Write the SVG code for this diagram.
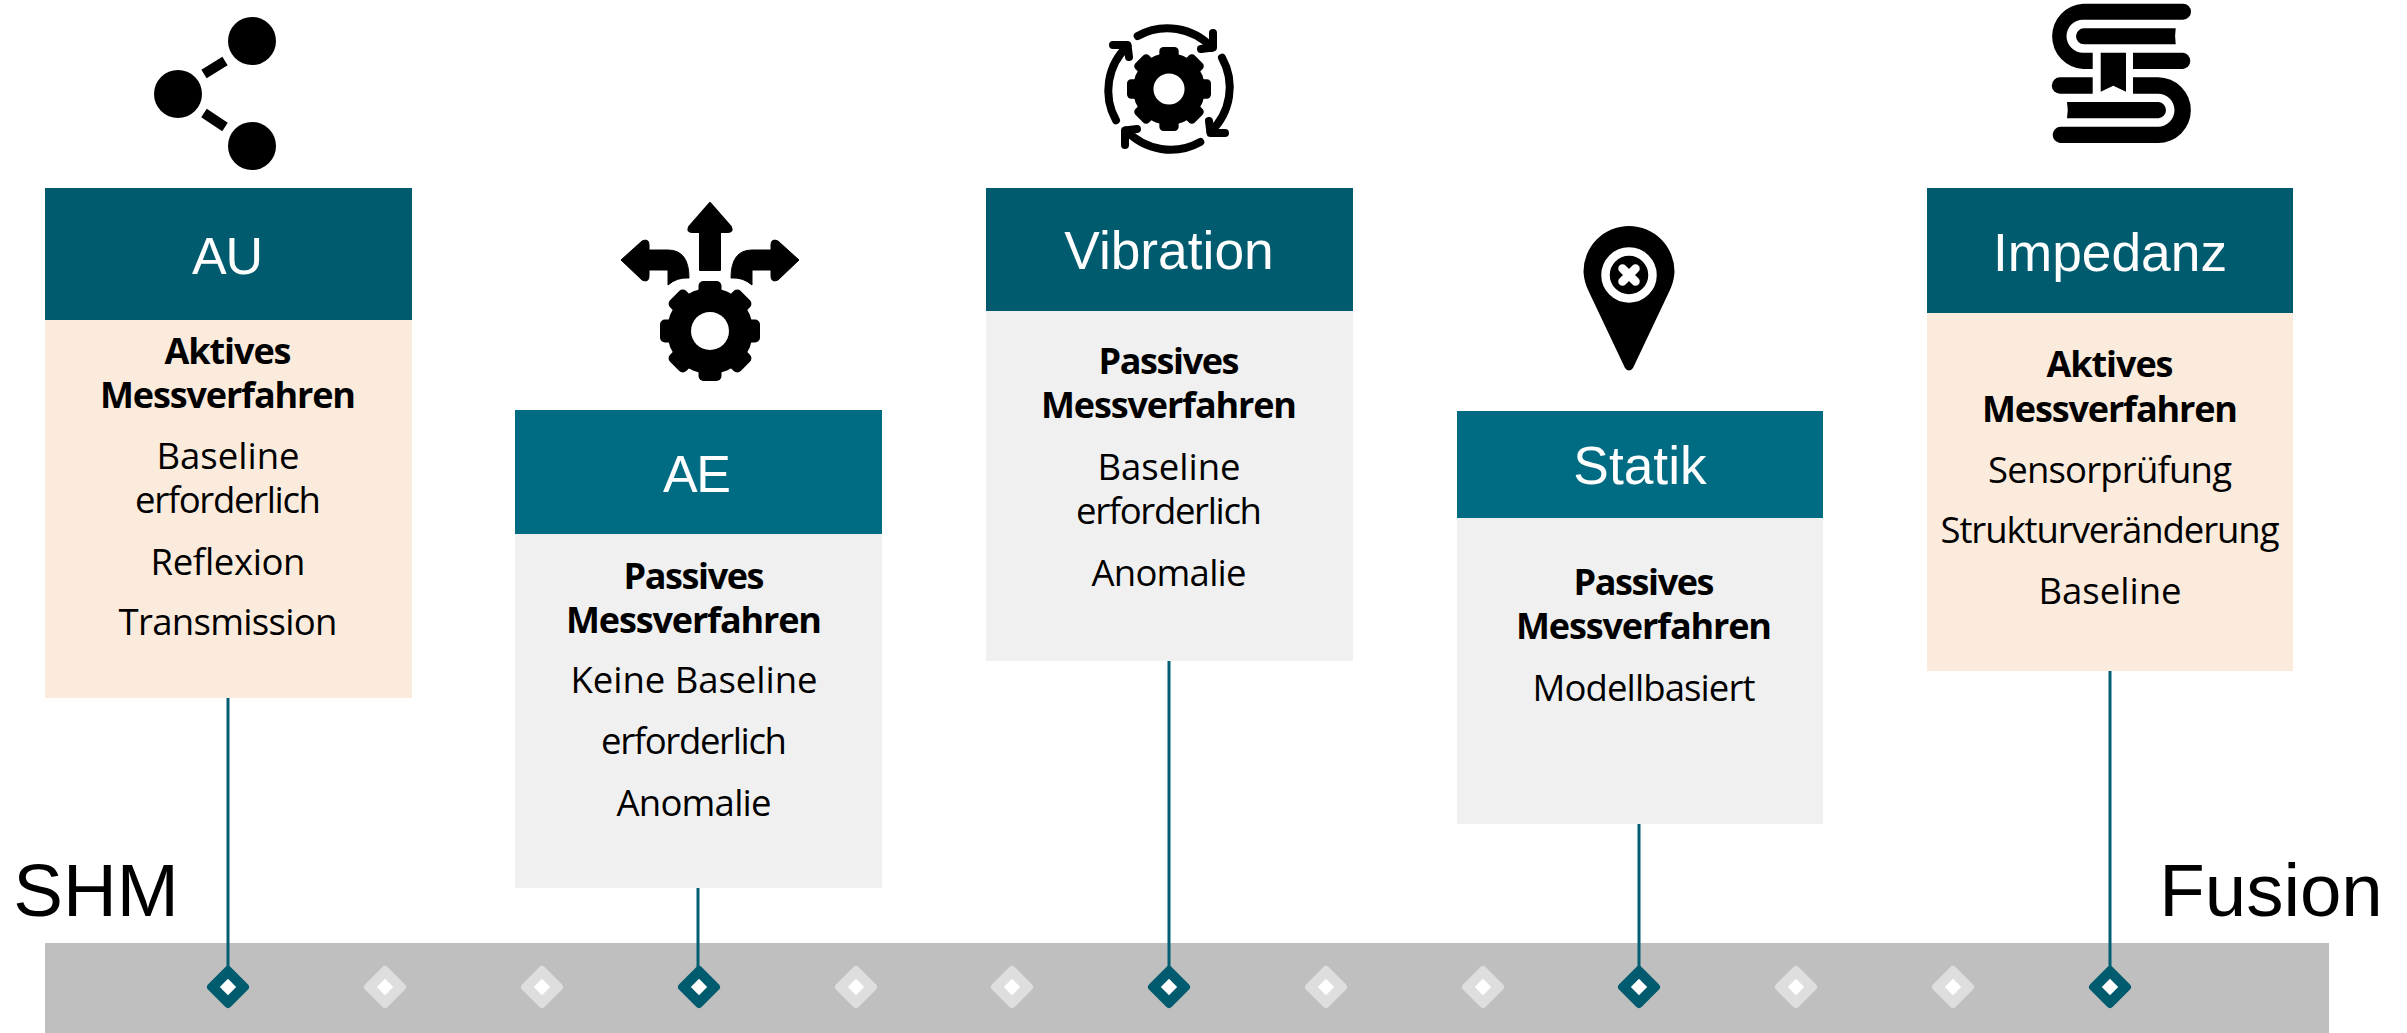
<svg xmlns="http://www.w3.org/2000/svg" xmlns:xlink="http://www.w3.org/1999/xlink" width="2407" height="1033" viewBox="0 0 2407 1033">
<style>
text{font-family:"Open Sans","Noto Sans",sans-serif;fill:#000;text-anchor:middle;font-size:36.500px}
.b{font-weight:700;font-size:36px}
.h{fill:#fff;font-family:"Liberation Sans",Arial,sans-serif;font-size:53.300px}
.hs{fill:#fff;font-family:"Liberation Sans",Arial,sans-serif;font-size:52px}
.big{font-family:"Liberation Sans",Arial,sans-serif;font-size:74.500px}
.dark{fill:#005b6e}
.mid{fill:#006c84}
.warm{fill:#fbebdc}
.cool{fill:#f0f0f0}
.conn{stroke:#005f73;stroke-width:3;fill:none}
.dd{fill:#005b6e}
.dl{fill:#dedede}
</style>
<defs>
<g id="dia"><rect x="-16" y="-16" width="32" height="32" rx="4" transform="rotate(45)"/><rect x="-5.800" y="-5.800" width="11.600" height="11.600" fill="#fff" transform="rotate(45)"/></g>
<g id="tooth"><rect x="-11.500" y="-50" width="23" height="20" rx="5"/></g>
<g id="arc"><path d="M1137.700 36A61 61 0 0 1 1212 47.700M1213 33L1213 47.500L1201 49" fill="none" stroke="#000" stroke-width="8" stroke-linecap="round" stroke-linejoin="round"/></g>
</defs>
<rect id="bar" x="45" y="943" width="2284" height="90" fill="#bfbfbf"/>
<g id="connectors">
<path class="conn" d="M228 698V970M698 888V970M1169 661V970M1639 824V970M2110 671V970"/>
</g>
<g id="ticks">
<use href="#dia" x="385" y="987" class="dl"/><use href="#dia" x="542" y="987" class="dl"/><use href="#dia" x="856" y="987" class="dl"/><use href="#dia" x="1012" y="987" class="dl"/><use href="#dia" x="1326" y="987" class="dl"/><use href="#dia" x="1483" y="987" class="dl"/><use href="#dia" x="1796" y="987" class="dl"/><use href="#dia" x="1953" y="987" class="dl"/>
<use href="#dia" x="228" y="987" class="dd"/><use href="#dia" x="699" y="987" class="dd"/><use href="#dia" x="1169" y="987" class="dd"/><use href="#dia" x="1639" y="987" class="dd"/><use href="#dia" x="2110" y="987" class="dd"/>
</g>
<text id="shm" class="big" x="96" y="916">SHM</text>
<text id="fusion" class="big" x="2271" y="916">Fusion</text>

<g id="node-au">
<rect class="dark" x="45" y="188" width="367" height="132"/>
<rect class="warm" x="45" y="320" width="367" height="378"/>
<text class="hs" x="227.500" y="274" textLength="71">AU</text>
<text class="b" x="228" y="364" textLength="127">Aktives</text>
<text class="b" x="228" y="408" textLength="256">Messverfahren</text>
<text x="228" y="469" textLength="143">Baseline</text>
<text x="228" y="513" textLength="186">erforderlich</text>
<text x="228" y="575" textLength="155">Reflexion</text>
<text x="228" y="635" textLength="219">Transmission</text>
<g id="icon-au">
<circle cx="252" cy="41" r="24"/><circle cx="178" cy="94" r="24"/><circle cx="252" cy="146" r="24"/>
<path d="M204 74L225 61M204 113L225 127" stroke="#000" stroke-width="10" fill="none"/>
</g>
</g>

<g id="node-ae">
<rect class="mid" x="515" y="410" width="367" height="124"/>
<rect class="cool" x="515" y="534" width="367" height="354"/>
<text class="hs" x="697" y="492" textLength="68">AE</text>
<text class="b" x="694" y="589" textLength="141">Passives</text>
<text class="b" x="694" y="633" textLength="256">Messverfahren</text>
<text x="694" y="693" textLength="247">Keine Baseline</text>
<text x="694" y="754" textLength="186">erforderlich</text>
<text x="694" y="816" textLength="155">Anomalie</text>
<g id="icon-ae">
<path d="M710 203L731 227Q733 232 728 232H720V270H700V232H692Q687 232 689 227Z" stroke="#000" stroke-width="2" stroke-linejoin="round"/>
<path id="ar" d="M621 260L642 241Q649 238 649 245V250H668Q689 250 689 278Q677 277 668 285V270H649V276Q649 283 642 280Z" stroke="#000" stroke-width="1" stroke-linejoin="round"/>
<use href="#ar" transform="translate(1420 0) scale(-1 1)"/>
<g transform="translate(710 331)"><circle r="43"/>
<use href="#tooth"/><use href="#tooth" transform="rotate(45)"/><use href="#tooth" transform="rotate(90)"/><use href="#tooth" transform="rotate(135)"/><use href="#tooth" transform="rotate(180)"/><use href="#tooth" transform="rotate(225)"/><use href="#tooth" transform="rotate(270)"/><use href="#tooth" transform="rotate(315)"/>
<circle r="19" fill="#fff"/></g>
</g>
</g>

<g id="node-vibration">
<rect class="dark" x="986" y="188" width="367" height="123"/>
<rect class="cool" x="986" y="311" width="367" height="350"/>
<text class="h" x="1169" y="269">Vibration</text>
<text class="b" x="1169" y="374" textLength="141">Passives</text>
<text class="b" x="1169" y="418" textLength="256">Messverfahren</text>
<text x="1169" y="480" textLength="143">Baseline</text>
<text x="1169" y="524" textLength="186">erforderlich</text>
<text x="1169" y="586" textLength="155">Anomalie</text>
<g id="icon-vibration">
<use href="#arc"/><use href="#arc" transform="rotate(90 1169 89)"/><use href="#arc" transform="rotate(180 1169 89)"/><use href="#arc" transform="rotate(270 1169 89)"/>
<g transform="translate(1169 89) scale(.84)"><circle r="43"/>
<use href="#tooth"/><use href="#tooth" transform="rotate(45)"/><use href="#tooth" transform="rotate(90)"/><use href="#tooth" transform="rotate(135)"/><use href="#tooth" transform="rotate(180)"/><use href="#tooth" transform="rotate(225)"/><use href="#tooth" transform="rotate(270)"/><use href="#tooth" transform="rotate(315)"/>
<circle r="18.500" fill="#fff"/></g>
</g>
</g>

<g id="node-statik">
<rect class="mid" x="1457" y="411" width="366" height="107"/>
<rect class="cool" x="1457" y="518" width="366" height="306"/>
<text class="h" x="1640" y="484">Statik</text>
<text class="b" x="1644" y="595" textLength="141">Passives</text>
<text class="b" x="1644" y="639" textLength="256">Messverfahren</text>
<text x="1644" y="701" textLength="223">Modellbasiert</text>
<g id="icon-statik">
<path d="M1629 226A45.500 45.500 0 0 1 1674.500 272Q1674 282 1669 292L1633 368Q1629 373 1625 368L1589 292Q1584 282 1583.500 272A45.500 45.500 0 0 1 1629 226Z"/>
<circle cx="1629" cy="275" r="23.500" fill="none" stroke="#fff" stroke-width="8.500"/>
<path d="M1622.500 268.500L1635.500 281.500M1635.500 268.500L1622.500 281.500" stroke="#fff" stroke-width="8.500" stroke-linecap="round"/>
</g>
</g>

<g id="node-impedanz">
<rect class="dark" x="1927" y="188" width="366" height="125"/>
<rect class="warm" x="1927" y="313" width="366" height="358"/>
<text class="h" x="2110" y="271">Impedanz</text>
<text class="b" x="2110" y="377" textLength="127">Aktives</text>
<text class="b" x="2110" y="422" textLength="256">Messverfahren</text>
<text x="2110" y="483" textLength="244">Sensorprüfung</text>
<text x="2110" y="543" textLength="339">Strukturveränderung</text>
<text x="2110" y="604" textLength="143">Baseline</text>
<g id="icon-impedanz">
<path d="M2183 3.700H2083A32.700 32.700 0 0 0 2083 69H2092.700V52.700H2083A16.500 16.500 0 0 1 2083 19.700H2183A8 8 0 0 0 2183 3.700Z"/>
<path d="M2084 28.300H2175.700Q2174.500 36 2175.700 44.300H2084A8 8 0 0 1 2084 28.300Z"/>
<path d="M2133 52.700H2183A8.200 8.200 0 0 1 2183 69H2133Z"/>
<path d="M2100.700 52.700H2126V91.700L2113.300 85.700L2100.700 91.700Z"/>
<path d="M2092.700 77.300H2060A8.200 8.200 0 0 0 2060 93.700H2092.700Z"/>
<path d="M2133 77.300H2158A32.800 32.800 0 0 1 2158 143H2060A8.200 8.200 0 0 1 2060 126.700H2158A16.500 16.500 0 0 0 2158 93.700H2133Z"/>
<path d="M2067 102H2158.700A8.200 8.200 0 0 1 2158.700 118.300H2067Q2068.500 110 2067 102Z"/>
</g>
</g>
</svg>
